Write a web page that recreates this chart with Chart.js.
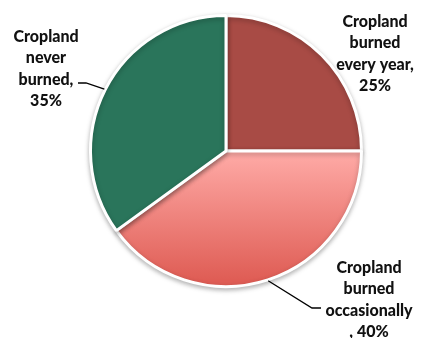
<!DOCTYPE html>
<html lang="en">
<head>
  <meta charset="UTF-8" />
  <title>Cropland burning</title>
  <style>
    html, body { margin: 0; padding: 0; background: #ffffff; }
    #wrap { width: 428px; height: 338px; }
  </style>
  <script src="https://cdn.jsdelivr.net/npm/chart.js"></script>
</head>
<body>
  <div id="wrap"><canvas id="chart" width="428" height="338"></canvas></div>

  <script>
    // data
    const categories = [
      ["Cropland", "burned", "every year,", "25%"],
      ["Cropland", "burned", "occasionally", ", 40%"],
      ["Cropland", "never", "burned,", "35%"]
    ];
    const shares = [25, 40, 35];
    const sliceColors = ["#a84b45", "gradient", "#2a755b"];

    // label placement, relative to the pie centre (layout only)
    const labelOffsets = [
      { dx: 149, dy: -97, leader: null },
      { dx: 143, dy: 149, leader: [[86, 157], [95, 157]] },
      { dx: -180, dy: -82, leader: [[-140, -68], [-148, -68]] }
    ];

    const ctx = document.getElementById("chart");

    function sliceColor(context) {
      const col = sliceColors[context.dataIndex];
      if (col !== "gradient") return col;
      const chart = context.chart;
      const area = chart.chartArea;
      if (!area) return "#f08a84";
      const cy = (area.top + area.bottom) / 2;
      const g = chart.ctx.createLinearGradient(0, cy, 0, area.bottom - 8);
      g.addColorStop(0, "#ffaba7");
      g.addColorStop(1, "#df5d55");
      return g;
    }

    const shadowPlugin = {
      id: "pieShadow",
      beforeDatasetsDraw(chart) {
        const c = chart.ctx;
        c.save();
        c.shadowColor = "rgba(0,0,0,0.28)";
        c.shadowBlur = 5;
        c.shadowOffsetY = 2;
      },
      afterDatasetsDraw(chart) {
        chart.ctx.restore();
      }
    };

    const labelPlugin = {
      id: "sliceLabels",
      afterDraw(chart) {
        const c = chart.ctx;
        const arcs = chart.getDatasetMeta(0).data;
        c.save();
        c.font = "900 16px Lato, 'Liberation Sans', sans-serif";
        c.fillStyle = "#111111";
        c.textAlign = "center";
        c.textBaseline = "middle";
        const lh = 21.5;
        arcs.forEach((arc, i) => {
          const p = arc.getProps(["x", "y", "startAngle", "endAngle", "outerRadius"], true);
          const off = labelOffsets[i];
          const lines = categories[i];
          const cx = p.x + off.dx;
          const cy = p.y + off.dy;
          lines.forEach((t, k) => {
            c.fillText(t, cx, cy + (k - (lines.length - 1) / 2) * lh);
          });
          if (off.leader) {
            const mid = (p.startAngle + p.endAngle) / 2;
            const r = p.outerRadius + 1;
            c.beginPath();
            c.strokeStyle = "#000000";
            c.lineWidth = 1.3;
            c.moveTo(p.x + Math.cos(mid) * r, p.y + Math.sin(mid) * r);
            off.leader.forEach(pt => c.lineTo(p.x + pt[0], p.y + pt[1]));
            c.stroke();
          }
        });
        c.restore();
      }
    };

    new Chart(ctx, {
      type: "pie",
      data: {
        labels: categories.map(l => l.join(" ")),
        datasets: [{
          data: shares,
          backgroundColor: sliceColor,
          borderColor: "#ffffff",
          borderWidth: 3
        }]
      },
      options: {
        responsive: false,
        animation: false,
        layout: { padding: { left: 89, right: 65, top: 14, bottom: 50 } },
        plugins: {
          legend: { display: false },
          tooltip: { enabled: false }
        }
      },
      plugins: [shadowPlugin, labelPlugin]
    });
  </script>
</body>
</html>
